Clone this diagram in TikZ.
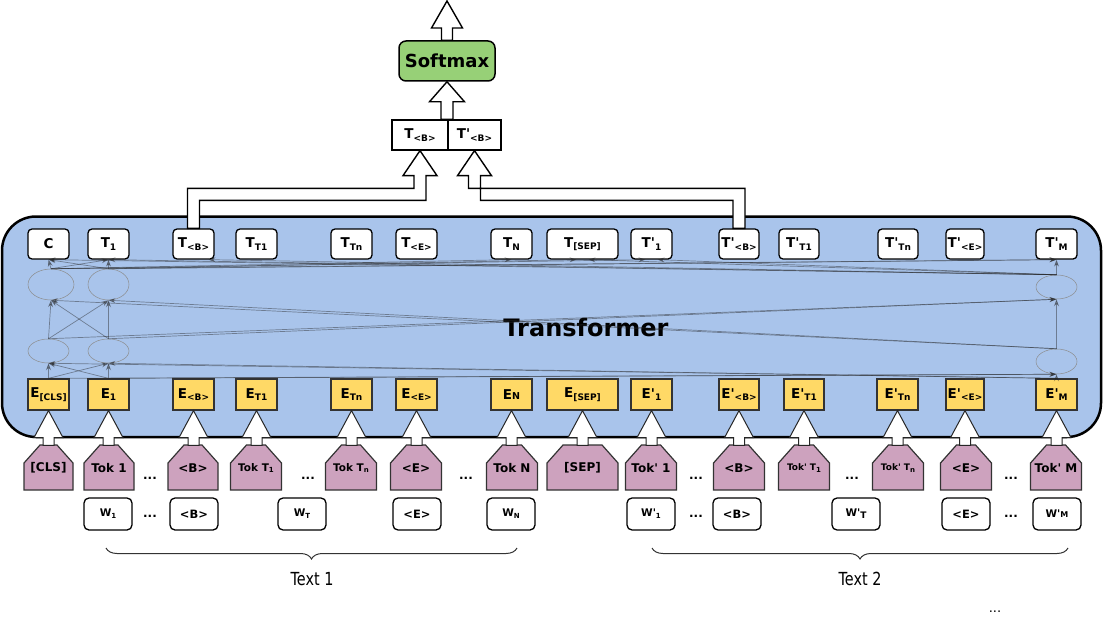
\documentclass[tikz,border=0pt]{standalone}
\usepackage{fontspec}
\setmainfont{DejaVu Sans}
\usepackage{graphicx}
\usetikzlibrary{calc,arrows.meta,decorations.pathreplacing,shapes.geometric}
\definecolor{tfblue}{HTML}{A9C4EB}
\definecolor{eyel}{HTML}{FFD966}
\definecolor{tokp}{HTML}{CDA2BE}
\definecolor{smg}{HTML}{97D077}
\newcommand{\sbs}[1]{\raisebox{-0.35ex}{\fontsize{9}{10}\selectfont #1}}
\newcommand{\ssbs}[1]{\raisebox{-0.3ex}{\fontsize{7}{8}\selectfont #1}}
\newcommand{\pr}{\textquotesingle}
\newcommand{\tokshape}[2]{\draw[tokshp] ({#1-#2/2},490) -- ({#1-#2/2},463) -- ({#1-#2/2+16},445) -- ({#1+#2/2-16},445) -- ({#1+#2/2},463) -- ({#1+#2/2},490) -- cycle;}
% style, from, to, stem half, head half, head length
\newcommand{\vblock}[6]{\draw[#1] let \p1=(#2), \p2=(#3) in (\x2-#4pt,\y1) -- (\x2-#4pt,\y2-#6pt) -- (\x2-#5pt,\y2-#6pt) -- (\x2,\y2) -- (\x2+#5pt,\y2-#6pt) -- (\x2+#4pt,\y2-#6pt) -- (\x2+#4pt,\y1) -- cycle;}
\begin{document}
\begin{tikzpicture}[x=1pt,y=-1pt,
  tbox/.style={draw=black, line width=1.3, rounded corners=4, fill=white, minimum width=41, minimum height=30, inner sep=0, font=\bfseries\fontsize{13.5}{14}\selectfont},
  ebox/.style={draw=black!80, line width=1.3, fill=eyel, minimum width=41, minimum height=31, inner sep=0, font=\bfseries\fontsize{13.5}{14}\selectfont},
  wbox/.style={draw=black, line width=1.3, rounded corners=5, fill=white, minimum width=48, minimum height=32, inner sep=0, font=\bfseries\fontsize{11.5}{13}\selectfont},
  toktext/.style={inner sep=0, minimum width=50, minimum height=45, font=\bfseries\fontsize{12}{13}\selectfont},
  tokshp/.style={draw=black!80, line width=1.2, fill=tokp},
  ell/.style={ellipse, draw=black!45, line width=0.5, inner sep=0},
  att/.style={draw=black!85, opacity=0.45, line width=0.7, -{Stealth[length=7pt,width=5pt]}},
  blk/.style={draw=black, fill=white, line width=1.4, line join=miter},
  sblk/.style={draw=black!85, fill=white, line width=1},
  dts/.style={inner sep=0, font=\bfseries\fontsize{12}{13}\selectfont},
  txtlab/.style={inner sep=0, font=\fontsize{18}{21}\selectfont},
  brc/.style={draw=black!80, line width=1, decorate, decoration={brace, mirror, amplitude=11}}
]
\useasboundingbox (0,0) rectangle (1103,623);

% Transformer container
\node[draw=black, line width=2.5, rounded corners=34, fill=tfblue, minimum width=1099, minimum height=220.5, inner sep=0] (tf) at (551.5,326.75) {};
\node[inner sep=0, font=\bfseries\fontsize{24}{28}\selectfont] (tflab) at (586,328) {Transformer};

% T row
\node[tbox] (tc) at (48.5,244) {C};
\node[tbox] (t1) at (108.5,244) {T\sbs{1}};
\node[tbox] (tB) at (193.5,244) {T\sbs{<B>}};
\node[tbox] (tT1) at (256.5,244) {T\sbs{T1}};
\node[tbox] (tTn) at (351.5,244) {T\sbs{Tn}};
\node[tbox] (tE) at (416.5,244) {T\sbs{<E>}};
\node[tbox] (tN) at (511.5,244) {T\sbs{N}};
\node[tbox, minimum width=71] (tsep) at (582.5,244) {T\sbs{[SEP]}};
\node[tbox] (tp1) at (651.5,244) {T\pr\sbs{1}};
\node[tbox, minimum width=40] (tpB) at (739,244) {T\pr\sbs{<B>}};
\node[tbox, minimum width=40] (tpT1) at (799,244) {T\pr\sbs{T1}};
\node[tbox, minimum width=40] (tpTn) at (898,244) {T\pr\sbs{Tn}};
\node[tbox, minimum width=38] (tpE) at (965,244) {T\pr\sbs{<E>}};
\node[tbox] (tM) at (1056.5,244) {T\pr\sbs{M}};

% E row
\node[ebox] (ecls) at (48.5,394.5) {E\sbs{[CLS]}};
\node[ebox] (e1) at (108.5,394.5) {E\sbs{1}};
\node[ebox] (eB) at (193.5,394.5) {E\sbs{<B>}};
\node[ebox] (eT1) at (256.5,394.5) {E\sbs{T1}};
\node[ebox] (eTn) at (351.5,394.5) {E\sbs{Tn}};
\node[ebox] (eE) at (416.5,394.5) {E\sbs{<E>}};
\node[ebox] (eN) at (511.5,394.5) {E{\fontsize{9.5}{10}\selectfont N}};
\node[ebox, minimum width=71] (esep) at (582.5,394.5) {E\sbs{[SEP]}};
\node[ebox] (ep1) at (651.5,394.5) {E\pr\sbs{1}};
\node[ebox, minimum width=40] (epB) at (739,394.5) {E\pr\sbs{<B>}};
\node[ebox, minimum width=40] (epT1) at (804,394.5) {E\pr\sbs{T1}};
\node[ebox, minimum width=41] (epTn) at (897.5,394.5) {E\pr\sbs{Tn}};
\node[ebox, minimum width=38] (epE) at (965,394.5) {E\pr\sbs{<E>}};
\node[ebox] (eM) at (1056.5,394.5) {E\pr\sbs{M}};

% internal layers
\node[ell, minimum width=46, minimum height=31] (uc) at (51,284.5) {};
\node[ell, minimum width=41, minimum height=31] (ut1) at (108.5,284.5) {};
\node[ell, minimum width=41, minimum height=24] (lc) at (48.5,351) {};
\node[ell, minimum width=41, minimum height=24] (lt1) at (108.5,351) {};
\node[ell, minimum width=41, minimum height=24] (uM) at (1056.5,287) {};
\node[ell, minimum width=41, minimum height=25] (lM) at (1056.5,361.5) {};

% E -> L
\draw[att] (ecls.north) -- (lc.south);
\draw[att] (e1.north) -- (lt1.south);
\draw[att] (ecls.north) -- (lt1.south);
\draw[att] (e1.north) -- (lc.south);
\draw[att] (eM.north) -- (lM.south);
\draw[att] (ecls.north) -- (lM.south);
\draw[att] (e1.north) -- (lM.south);
\draw[att] (eM.north) -- (lc.south);
\draw[att] (eM.north) -- (lt1.south);
% L -> U
\draw[att] (lc.north) -- (uc.south);
\draw[att] (lt1.north) -- (ut1.south);
\draw[att] (lc.north) -- (ut1.south);
\draw[att] (lt1.north) -- (uc.south);
\draw[att] (lM.north) -- (uM.south);
\draw[att] (lc.north) -- (uM.south);
\draw[att] (lt1.north) -- (uM.south);
\draw[att] (lM.north) -- (uc.south);
\draw[att] (lM.north) -- (ut1.south);
% U -> T
\draw[att] (uc.north) -- (tc.south);
\draw[att] (ut1.north) -- (t1.south);
\draw[att] (uc.north) -- (t1.south);
\draw[att] (ut1.north) -- (tc.south);
\draw[att] (uM.north) -- (tM.south);
\draw[att] (uc.north) -- (tM.south);
\draw[att] (ut1.north) -- (tM.south);
\draw[att] (uM.north) -- (tc.south);
\draw[att] (uM.north) -- (t1.south);
\draw[att] (uc.north) -- (tN.south);
\draw[att] (ut1.north) -- ([xshift=-6]tsep.south);
\draw[att] (uM.north) -- ([xshift=6]tsep.south);
\draw[att] (uc.north) -- ([xshift=-6]tp1.south);
\draw[att] (uM.north) -- ([xshift=6]tp1.south);
\draw[att] (uM.north) -- ([xshift=15]tB.south);

% top boxes
\node[draw=black, line width=1.3, fill=white, minimum width=56, minimum height=30, inner sep=0, font=\bfseries\fontsize{13.5}{14}\selectfont] (tbtop) at (420,135) {T\sbs{<B>}};
\node[draw=black, line width=1.3, fill=white, minimum width=53, minimum height=30, inner sep=0, font=\bfseries\fontsize{13.5}{14}\selectfont] (tpbtop) at (474.5,135) {T\pr\sbs{<B>}};
\node[draw=black, line width=1.5, rounded corners=7, fill=smg, minimum width=96, minimum height=40, inner sep=0, font=\bfseries\fontsize{18}{21}\selectfont] (sm) at (447,61) {Softmax};
\coordinate (smout) at (447,1);

% elbow arrows
\draw[blk] let \p1=(tB.north), \p2=(tbtop.south) in
  (\x1-6pt,\y1) -- (\x1-6pt,\y1+40pt) -- (\x2-6pt,\y1+40pt) -- (\x2-6pt,\y2-25pt) -- (\x2-17pt,\y2-25pt) -- (\x2,\y2) -- (\x2+17pt,\y2-25pt) -- (\x2+6pt,\y2-25pt) -- (\x2+6pt,\y1+28pt) -- (\x1+6pt,\y1+28pt) -- (\x1+6pt,\y1) -- cycle;
\draw[blk] let \p1=(tpB.north), \p2=(tpbtop.south) in
  (\x1+6pt,\y1) -- (\x1+6pt,\y1+40pt) -- (\x2-6pt,\y1+40pt) -- (\x2-6pt,\y2-25pt) -- (\x2-17pt,\y2-25pt) -- (\x2,\y2) -- (\x2+17pt,\y2-25pt) -- (\x2+6pt,\y2-25pt) -- (\x2+6pt,\y1+28pt) -- (\x1-6pt,\y1+28pt) -- (\x1-6pt,\y1) -- cycle;

\vblock{blk}{tbtop.north east}{sm.south}{6}{17.5}{20}
\vblock{blk}{sm.north}{smout}{5.5}{15.5}{27}

% tokens
\tokshape{48.5}{49}\node[toktext] (kcls) at (48.5,468) {[CLS]};
\tokshape{109}{50}\node[toktext] (k1) at (109,468) {Tok 1};
\tokshape{193}{50}\node[toktext] (kB) at (193,468) {<B>};
\tokshape{256}{51}\node[toktext, font=\bfseries\fontsize{10.5}{12}\selectfont] (kT1) at (256,468) {Tok T\ssbs{1}};
\tokshape{351}{51}\node[toktext, font=\bfseries\fontsize{10.5}{12}\selectfont] (kTn) at (351,468) {Tok T\ssbs{n}};
\tokshape{416}{51}\node[toktext] (kE) at (416,468) {<E>};
\tokshape{512}{51}\node[toktext] (kN) at (512,468) {Tok N};
\tokshape{582.5}{71}\node[toktext] (ksep) at (582.5,468) {[SEP]};
\tokshape{651}{51}\node[toktext] (kp1) at (651,468) {Tok\pr{} 1};
\tokshape{739}{51}\node[toktext] (kpB) at (739,468) {<B>};
\tokshape{804}{51}\node[toktext, font=\bfseries\fontsize{9}{11}\selectfont] (kpT1) at (804,468) {Tok\pr{} T\ssbs{1}};
\tokshape{898}{51}\node[toktext, font=\bfseries\fontsize{9}{11}\selectfont] (kpTn) at (898,468) {Tok\pr{} T\ssbs{n}};
\tokshape{966}{51}\node[toktext] (kpE) at (966,468) {<E>};
\tokshape{1056}{51}\node[toktext] (kM) at (1056,468) {Tok\pr{} M};

% token -> embedding arrows
\vblock{sblk}{kcls.north}{ecls.south}{5.5}{14.5}{27}
\vblock{sblk}{k1.north}{e1.south}{5.5}{14.5}{27}
\vblock{sblk}{kB.north}{eB.south}{5.5}{14.5}{27}
\vblock{sblk}{kT1.north}{eT1.south}{5.5}{14.5}{27}
\vblock{sblk}{kTn.north}{eTn.south}{5.5}{14.5}{27}
\vblock{sblk}{kE.north}{eE.south}{5.5}{14.5}{27}
\vblock{sblk}{kN.north}{eN.south}{5.5}{14.5}{27}
\vblock{sblk}{ksep.north}{esep.south}{5.5}{14.5}{27}
\vblock{sblk}{kp1.north}{ep1.south}{5.5}{14.5}{27}
\vblock{sblk}{kpB.north}{epB.south}{5.5}{14.5}{27}
\vblock{sblk}{kpT1.north}{epT1.south}{5.5}{14.5}{27}
\vblock{sblk}{kpTn.north}{epTn.south}{5.5}{14.5}{27}
\vblock{sblk}{kpE.north}{epE.south}{5.5}{14.5}{27}
\vblock{sblk}{kM.north}{eM.south}{5.5}{14.5}{27}

% dots in token row
\node[dts] (d1) at (150,478) {...};
\node[dts] (d2) at (308,478) {...};
\node[dts] (d3) at (466,478) {...};
\node[dts] (d4) at (696,478) {...};
\node[dts] (d5) at (852,478) {...};
\node[dts] (d6) at (1011,478) {...};

% word row
\node[wbox] (w1) at (108,514) {{\fontsize{10.5}{12}\selectfont W\ssbs{1}}};
\node[wbox] (wB) at (194,514) {<B>};
\node[wbox] (wT) at (302,514) {{\fontsize{10.5}{12}\selectfont W\ssbs{T}}};
\node[wbox] (wE) at (417,514) {<E>};
\node[wbox] (wN) at (511,514) {{\fontsize{10.5}{12}\selectfont W\ssbs{N}}};
\node[wbox] (wp1) at (651,514) {{\fontsize{10.5}{12}\selectfont W\pr\ssbs{1}}};
\node[wbox] (wpB) at (737,514) {<B>};
\node[wbox] (wpT) at (856,514) {{\fontsize{10.5}{12}\selectfont W\pr\sbs{T}}};
\node[wbox] (wpE) at (966,514) {<E>};
\node[wbox] (wM) at (1057,514) {{\fontsize{10.5}{12}\selectfont W\pr{\fontsize{8}{9}\selectfont M}}};
\node[dts] (d7) at (150,516) {...};
\node[dts] (d8) at (696,516) {...};
\node[dts] (d9) at (1011,516) {...};

% braces
\coordinate (b1l) at (106,548);
\coordinate (b1r) at (517,548);
\coordinate (b2l) at (652,548);
\coordinate (b2r) at (1068,548);
\draw[brc] (b1l) -- (b1r);
\draw[brc] (b2l) -- (b2r);
\node[txtlab] (tx1) at (312,579) {\scalebox{0.8}[1]{Text 1}};
\node[txtlab] (tx2) at (860,579) {\scalebox{0.8}[1]{Text 2}};
\node[inner sep=0, font=\fontsize{13}{15}\selectfont] (dend) at (995,612) {...};
\end{tikzpicture}
\end{document}
